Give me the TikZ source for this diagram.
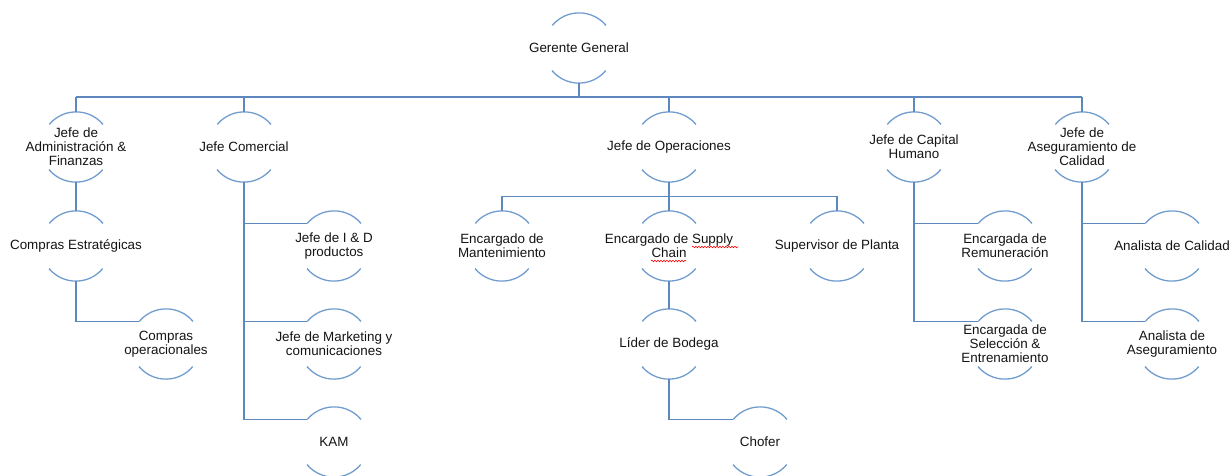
\documentclass[tikz,border=0pt]{standalone}
\usepackage{fontspec}
\setmainfont{Liberation Sans}
\usetikzlibrary{decorations.pathmorphing,calc}
\definecolor{linkblue}{RGB}{92,136,190}
\definecolor{ringblue}{RGB}{112,156,206}
\definecolor{textgray}{RGB}{20,20,20}
\tikzset{
  orgcirc/.style={circle,minimum size=70pt,inner sep=0pt,draw=none},
  orgtext/.style={align=center,font=\fontsize{13.4pt}{14pt}\selectfont,text=textgray,inner sep=0pt},
  ringarc/.style={draw=ringblue,line width=1.3pt},
  link/.style={draw=linkblue,line width=1.3pt},
  mainbus/.style={draw=linkblue,line width=1.8pt},
  spellmark/.style={draw=red,line width=0.6pt,decorate,decoration={snake,amplitude=0.8pt,segment length=3pt}}
}
% a position with its two ring arcs and its centred label
\newcommand\orgbox[3]{%
  \node[orgcirc] (#1) at (#2) {};
  \node[orgtext] (#1-t) at (#1.center) {#3};
  \draw[ringarc] (#1.40) arc[start angle=40,end angle=140,radius=35pt];
  \draw[ringarc] (#1.220) arc[start angle=220,end angle=320,radius=35pt];
}
\begin{document}
\begin{tikzpicture}[x=1pt,y=1pt]
\useasboundingbox (0,0) rectangle (1232,475);

% top level
\orgbox{gg}{579,427}{Gerente General}

% heads of area
\orgbox{adm}{76,328}{Jefe de\\Administración \&\\Finanzas}
\orgbox{com}{244,328}{Jefe Comercial}
\orgbox{ope}{669,328}{Jefe de Operaciones}
\orgbox{cap}{914,328}{Jefe de Capital\\Humano}
\orgbox{ase}{1082,328}{Jefe de\\Aseguramiento de\\Calidad}

% administration
\orgbox{cest}{76,229}{Compras Estratégicas}
\orgbox{cope}{166,131}{Compras\\operacionales}

% commercial
\orgbox{id}{334,229}{Jefe de I \& D\\productos}
\orgbox{mkt}{334,131}{Jefe de Marketing y\\comunicaciones}
\orgbox{kam}{334,33}{KAM}

% operations
\orgbox{man}{502,229}{Encargado de\\Mantenimiento}
\orgbox{sup}{669,229}{Encargado de Supply\\Chain}
\orgbox{pla}{837,229}{Supervisor de Planta}
\orgbox{bod}{669,131}{Líder de Bodega}
\orgbox{cho}{760,33}{Chofer}

% human capital
\orgbox{rem}{1005,229}{Encargada de\\Remuneración}
\orgbox{sel}{1005,131}{Encargada de\\Selección \&\\Entrenamiento}

% quality assurance
\orgbox{acal}{1172,229}{Analista de Calidad}
\orgbox{aase}{1172,131}{Analista de\\Aseguramiento}

% connectors: general manager to heads
\coordinate (busL) at ($(adm.north)+(0,14.5)$);
\coordinate (busR) at ($(ase.north)+(0,14.5)$);
\draw[mainbus] (busL) -- (busR);
\draw[link] (gg.south) -- (gg.south |- busL);
\foreach \c in {adm,com,ope,cap,ase}
  \draw[link] (\c.north) -- (\c.north |- busL);

% operations branch
\foreach \c in {man,sup,pla}
  \draw[link] (ope.south) -- ++(0,-14.5) -| (\c.north);
\draw[link] (sup.south) -- (bod.north);
\draw[link] (bod.south) |- (cho.140);

% administration branch
\draw[link] (adm.south) -- (cest.north);
\draw[link] (cest.south) |- (cope.140);

% commercial branch
\foreach \c in {id,mkt,kam}
  \draw[link] (com.south) |- (\c.140);

% human capital branch
\foreach \c in {rem,sel}
  \draw[link] (cap.south) |- (\c.140);

% quality branch
\foreach \c in {acal,aase}
  \draw[link] (ase.south) |- (\c.140);

% spelling marks under the unknown words
\draw[spellmark] ($(sup.center)+(23,-1)$) -- ($(sup.center)+(69,-1)$);
\draw[spellmark] ($(sup.center)+(-18,-15)$) -- ($(sup.center)+(17,-15)$);
\end{tikzpicture}
\end{document}
